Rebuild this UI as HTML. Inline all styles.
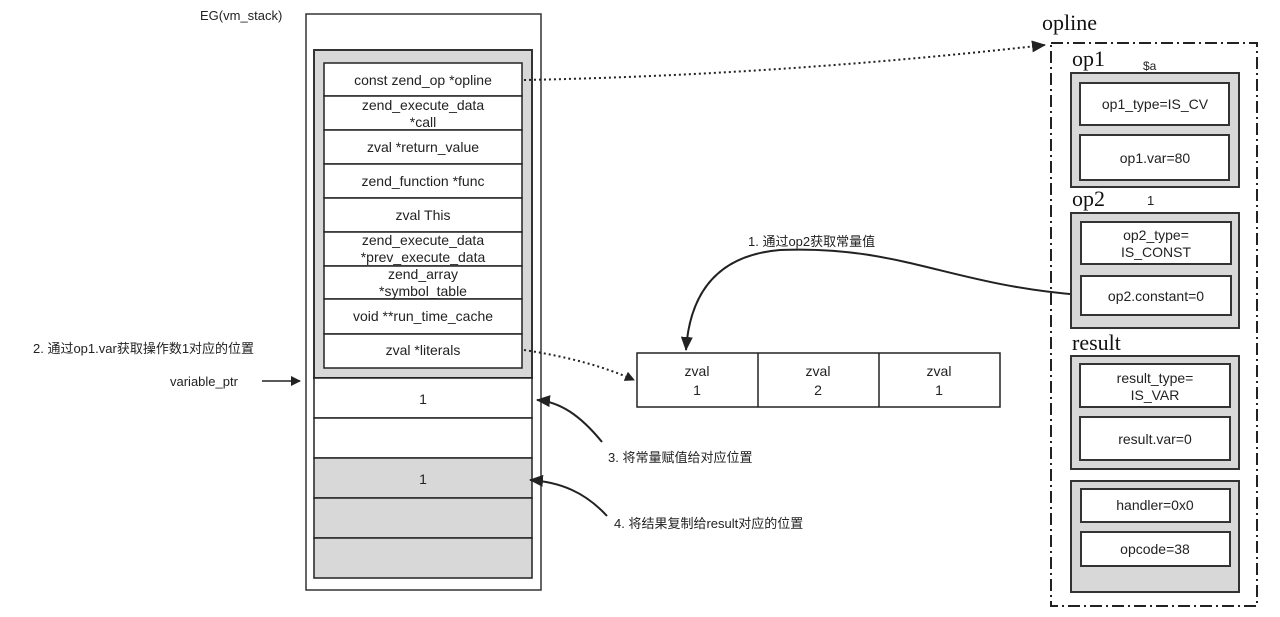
<!DOCTYPE html>
<html><head><meta charset="utf-8"><style>
body{margin:0;background:#fff;}
svg{display:block;font-family:"Liberation Sans","Noto Sans CJK SC",sans-serif;}
.t{font-size:14px;fill:#222;text-anchor:middle;}
.s{font-family:"Liberation Serif",serif;font-size:22px;fill:#111;}
.c{font-size:13px;fill:#222;}
</style></head><body>
<svg width="1280" height="617" viewBox="0 0 1280 617">
<defs><marker id="a" markerWidth="10" markerHeight="10" refX="9" refY="5" orient="auto" markerUnits="userSpaceOnUse"><path d="M0,0 L10,5 L0,10 z" fill="#222"/></marker>
<marker id="b" markerWidth="14" markerHeight="12" refX="13" refY="6" orient="auto" markerUnits="userSpaceOnUse"><path d="M0,0 L14,6 L0,12 z" fill="#222"/></marker></defs>
<text x="200" y="20" class="c">EG(vm_stack)</text>
<rect x="306" y="14" width="235" height="576" fill="#fff" stroke="#333" stroke-width="1.5"/>
<rect x="314" y="50" width="218" height="328" fill="#d8d8d8" stroke="#333" stroke-width="2"/>
<g fill="#fff" stroke="#222" stroke-width="1.5">
<rect x="324" y="63" width="198" height="33"/><rect x="324" y="96" width="198" height="34"/><rect x="324" y="130" width="198" height="34"/><rect x="324" y="164" width="198" height="34"/><rect x="324" y="198" width="198" height="34"/><rect x="324" y="232" width="198" height="34"/><rect x="324" y="266" width="198" height="33"/><rect x="324" y="299" width="198" height="35"/><rect x="324" y="334" width="198" height="34"/>
<rect x="314" y="378" width="218" height="40"/><rect x="314" y="418" width="218" height="40"/>
<rect x="314" y="458" width="218" height="40" fill="#d8d8d8"/><rect x="314" y="498" width="218" height="40" fill="#d8d8d8"/><rect x="314" y="538" width="218" height="40" fill="#d8d8d8"/>
</g>
<text class="t" x="423" y="85">const zend_op *opline</text>
<text class="t" x="423" y="110">zend_execute_data</text><text class="t" x="423" y="127">*call</text>
<text class="t" x="423" y="152">zval  *return_value</text>
<text class="t" x="423" y="186">zend_function *func</text>
<text class="t" x="423" y="220">zval  This</text>
<text class="t" x="423" y="245">zend_execute_data</text><text class="t" x="423" y="262">*prev_execute_data</text>
<text class="t" x="423" y="279">zend_array</text><text class="t" x="423" y="296">*symbol_table</text>
<text class="t" x="423" y="321">void **run_time_cache</text>
<text class="t" x="423" y="355">zval  *literals</text>
<text class="t" x="423" y="404">1</text><text class="t" x="423" y="484">1</text>
<text class="c" x="33" y="353">2. 通过op1.var获取操作数1对应的位置</text>
<text class="c" x="170" y="386">variable_ptr</text>
<line x1="262" y1="381" x2="300" y2="381" stroke="#222" stroke-width="1.5" marker-end="url(#a)"/>
<rect x="637" y="353" width="363" height="54" fill="#fff" stroke="#222" stroke-width="1.5"/>
<line x1="758" y1="353" x2="758" y2="407" stroke="#222" stroke-width="1.5"/><line x1="879" y1="353" x2="879" y2="407" stroke="#222" stroke-width="1.5"/>
<text class="t" x="697" y="376">zval</text><text class="t" x="697" y="395">1</text>
<text class="t" x="818" y="376">zval</text><text class="t" x="818" y="395">2</text>
<text class="t" x="939" y="376">zval</text><text class="t" x="939" y="395">1</text>
<path d="M524,80 Q780,75 1045,45" fill="none" stroke="#222" stroke-width="2" stroke-dasharray="2,3" marker-end="url(#b)"/>
<path d="M524,350 Q590,360 634,380" fill="none" stroke="#222" stroke-width="2" stroke-dasharray="2,3" marker-end="url(#a)"/>
<path d="M1081,295 C950,285 900,245 780,250 C720,255 690,290 686,350" fill="none" stroke="#222" stroke-width="2" marker-end="url(#b)"/>
<path d="M602,442 C580,415 560,402 537,400" fill="none" stroke="#222" stroke-width="2" marker-end="url(#b)"/>
<path d="M607,516 C585,492 560,482 530,480" fill="none" stroke="#222" stroke-width="2" marker-end="url(#b)"/>
<text class="c" x="748" y="246">1. 通过op2获取常量值</text>
<text class="c" x="608" y="462">3. 将常量赋值给对应位置</text>
<text class="c" x="614" y="528">4. 将结果复制给result对应的位置</text>
<text class="s" x="1042" y="30">opline</text>
<rect x="1051" y="43" width="206" height="563" fill="none" stroke="#222" stroke-width="2" stroke-dasharray="12,4,2,4"/>
<text class="s" x="1072" y="66">op1</text><text class="c" x="1143" y="70" style="font-size:12px">$a</text>
<text class="s" x="1072" y="206">op2</text><text class="c" x="1147" y="205">1</text>
<text class="s" x="1072" y="350">result</text>
<g stroke="#333" stroke-width="2">
<rect x="1071" y="73" width="168" height="114" fill="#d8d8d8"/><rect x="1071" y="213" width="168" height="115" fill="#d8d8d8"/>
<rect x="1071" y="356" width="168" height="113" fill="#d8d8d8"/><rect x="1071" y="481" width="168" height="111" fill="#d8d8d8"/>
<g fill="#fff"><rect x="1080" y="83" width="149" height="42"/><rect x="1080" y="135" width="149" height="45"/>
<rect x="1081" y="222" width="150" height="42"/><rect x="1081" y="276" width="150" height="39"/>
<rect x="1080" y="364" width="150" height="43"/><rect x="1080" y="417" width="150" height="43"/>
<rect x="1081" y="489" width="149" height="33"/><rect x="1081" y="532" width="149" height="34"/></g></g>
<text class="t" x="1155" y="109">op1_type=IS_CV</text><text class="t" x="1155" y="163">op1.var=80</text>
<text class="t" x="1156" y="240">op2_type=</text><text class="t" x="1156" y="257">IS_CONST</text>
<text class="t" x="1156" y="301">op2.constant=0</text>
<text class="t" x="1155" y="383">result_type=</text><text class="t" x="1155" y="400">IS_VAR</text>
<text class="t" x="1155" y="444">result.var=0</text>
<text class="t" x="1155" y="510">handler=0x0</text><text class="t" x="1155" y="554">opcode=38</text>
</svg>
</body></html>
